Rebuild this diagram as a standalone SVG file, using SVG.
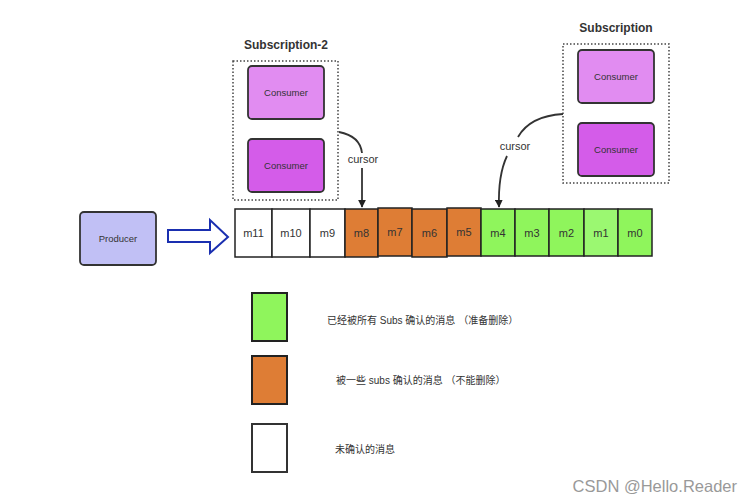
<svg xmlns="http://www.w3.org/2000/svg" width="752" height="502" viewBox="0 0 752 502">
<defs>
<style>
.t{font-family:"Liberation Sans","Noto Sans CJK SC",sans-serif;fill:#333}
.cell{stroke:#222;stroke-width:1.5}
.w{fill:#fff}.o{fill:#de7d35}.g{fill:#8ff55c}
.cons{stroke:#333;stroke-width:1.8}
.dot{fill:none;stroke:#444;stroke-width:1.5;stroke-dasharray:1.5 2}
.conn{fill:none;stroke:#333;stroke-width:1.8}
</style>
<marker id="ah" viewBox="0 0 10 10" refX="9" refY="5" markerWidth="8" markerHeight="8" orient="auto" markerUnits="userSpaceOnUse">
<path d="M0,0 L10,5 L0,10 z" fill="#222"/>
</marker>
</defs>
<rect width="752" height="502" fill="#fff"/>

<g id="subscription2">
<text class="t" x="286" y="49" font-size="12" font-weight="bold" text-anchor="middle" fill="#444">Subscription-2</text>
<rect class="dot" x="233" y="61" width="105" height="139"/>
</g>
<g id="consumer-s2-1">
<rect class="cons" x="248" y="66" width="76" height="53" rx="4" fill="#e18cf1"/>
<text class="t" x="286" y="96" font-size="9.5" text-anchor="middle">Consumer</text>
</g>
<g id="consumer-s2-2">
<rect class="cons" x="248" y="139" width="76" height="53" rx="4" fill="#d45ce9"/>
<text class="t" x="286" y="169" font-size="9.5" text-anchor="middle">Consumer</text>
</g>

<g id="subscription">
<text class="t" x="616" y="32" font-size="12" font-weight="bold" text-anchor="middle">Subscription</text>
<rect class="dot" x="563" y="44" width="106" height="139"/>
</g>
<g id="consumer-s-1">
<rect class="cons" x="578" y="50" width="76" height="53" rx="4" fill="#e18cf1"/>
<text class="t" x="616" y="80" font-size="9.5" text-anchor="middle">Consumer</text>
</g>
<g id="consumer-s-2">
<rect class="cons" x="578" y="123" width="76" height="53" rx="4" fill="#d45ce9"/>
<text class="t" x="616" y="153" font-size="9.5" text-anchor="middle">Consumer</text>
</g>

<g id="producer">
<rect class="cons" x="80" y="212" width="76" height="53" rx="4" fill="#c1c0f5"/>
<text class="t" x="118" y="242" font-size="9.5" text-anchor="middle">Producer</text>
</g>

<g id="queue">
<rect class="cell w" x="235" y="209" width="37" height="48"/>
<rect class="cell w" x="272" y="209" width="38" height="48"/>
<rect class="cell w" x="310" y="209" width="35" height="48"/>
<rect class="cell o" x="345" y="209" width="33" height="48"/>
<rect class="cell o" x="378" y="208" width="34" height="48"/>
<rect class="cell o" x="412" y="209" width="35" height="48"/>
<rect class="cell o" x="447" y="208" width="34" height="48"/>
<rect class="cell g" x="481" y="209" width="34" height="47"/>
<rect class="cell g" x="515" y="209" width="34" height="47"/>
<rect class="cell g" x="549" y="209" width="35" height="47"/>
<rect class="cell" x="584" y="209" width="34" height="47" fill="#9bf871"/>
<rect class="cell g" x="618" y="209" width="34" height="47"/>
<g class="t" font-size="11" text-anchor="middle">
<text x="253.5" y="237">m11</text>
<text x="291" y="237">m10</text>
<text x="327.5" y="237">m9</text>
<text x="361.5" y="237">m8</text>
<text x="395" y="236">m7</text>
<text x="429.5" y="237">m6</text>
<text x="464" y="236">m5</text>
<text x="498" y="237">m4</text>
<text x="532" y="237">m3</text>
<text x="566.5" y="237">m2</text>
<text x="601" y="237">m1</text>
<text x="635" y="237">m0</text>
</g>
</g>

<g id="connectors">
<path d="M168,230 H210 V220 L228,237 L210,253 V242 H168 Z" fill="#fff" stroke="#1a2fb0" stroke-width="2" stroke-linejoin="miter"/>
<path class="conn" d="M339,132 Q360,136 362,153"/>
<text class="t" x="363" y="163" font-size="11" text-anchor="middle">cursor</text>
<path class="conn" d="M362,168 L362,207" marker-end="url(#ah)"/>
<path class="conn" d="M563,114 Q530,116 518,137"/>
<text class="t" x="515" y="150" font-size="11" text-anchor="middle">cursor</text>
<path class="conn" d="M507,156 Q498,175 499,207" marker-end="url(#ah)"/>
</g>

<g id="legend">
<rect x="252" y="293" width="35" height="48" fill="#8ff55c" stroke="#222" stroke-width="2"/>
<text class="t" x="327" y="324" font-size="10">已经被所有 Subs 确认的消息 （准备删除）</text>
<rect x="252" y="356" width="35" height="48" fill="#de7d35" stroke="#222" stroke-width="2"/>
<text class="t" x="336" y="384" font-size="10">被一些 subs 确认的消息 （不能删除）</text>
<rect x="252" y="424" width="35" height="48" fill="#fff" stroke="#333" stroke-width="2"/>
<text class="t" x="335" y="453" font-size="10">未确认的消息</text>
</g>

<text x="737" y="492" font-family="Liberation Sans,sans-serif" font-size="16.5" fill="#999" text-anchor="end">CSDN @Hello.Reader</text>
</svg>
